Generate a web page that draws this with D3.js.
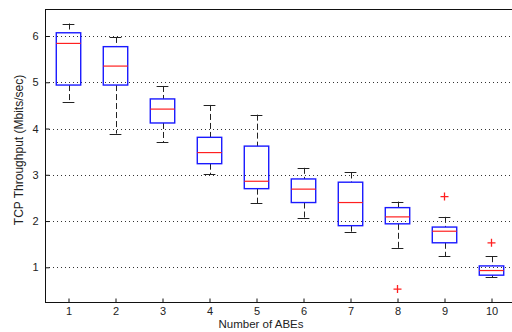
<!DOCTYPE html>
<html>
<head>
<meta charset="utf-8">
<script src="https://cdn.jsdelivr.net/npm/d3@7"></script>
<style>
  body { margin: 0; background: #fff; }
  svg { display: block; }
  text { font-family: "Liberation Sans", Arial, sans-serif; fill: #222; }
</style>
</head>
<body>
<div id="container"></div>
<script>
/* DATA */
const abes = [1, 2, 3, 4, 5, 6, 7, 8, 9, 10];
const whiskerHigh = [6.27, 5.98, 4.92, 4.51, 4.30, 3.15, 3.05, 2.42, 2.09, 1.24];
const q3 = [6.07, 5.77, 4.64, 3.81, 3.62, 2.91, 2.84, 2.29, 1.87, 1.03];
const medians = [5.84, 5.35, 4.42, 3.48, 2.86, 2.69, 2.40, 2.09, 1.78, 0.93];
const q1 = [4.94, 4.94, 4.12, 3.24, 2.70, 2.40, 1.90, 1.94, 1.53, 0.83];
const whiskerLow = [4.57, 3.89, 3.71, 3.01, 2.38, 2.07, 1.77, 1.41, 1.24, 0.78];
const outlierX = [8, 9, 10];
const outlierY = [0.53, 2.53, 1.53];
const yTicks = [1, 2, 3, 4, 5, 6];

/* CONSTANTS */
const width = 512, height = 332,
    margin = { top: 9, bottom: 30, left: 45, right: -3 };

const boxes = abes.map((a, i) => ({
    x: a, hi: whiskerHigh[i], q3: q3[i], med: medians[i], q1: q1[i], lo: whiskerLow[i]
}));
const outliers = outlierX.map((x, i) => ({ x: x, y: outlierY[i] }));

// SCALES
const xScale = d3.scaleLinear()
    .domain([0.5, 10.5])
    .range([margin.left, width - margin.right]);

const yScale = d3.scaleLinear()
    .domain([0.25, 6.584])
    .range([height - margin.bottom, margin.top]);

const boxW = xScale(0.52) - xScale(0);
const capW = xScale(0.25) - xScale(0);

// SVG
const svg = d3.select("#container")
    .append("svg")
    .attr("width", width)
    .attr("height", height);

const x0 = xScale.range()[0], x1 = xScale.range()[1];
const y0 = yScale.range()[0], y1 = yScale.range()[1];

// GRID
svg.append("g")
    .selectAll("line")
    .data(yTicks)
    .join("line")
    .attr("x1", x0)
    .attr("x2", x1)
    .attr("y1", d => Math.round(yScale(d)) + 0.5)
    .attr("y2", d => Math.round(yScale(d)) + 0.5)
    .attr("stroke", "#333")
    .attr("stroke-width", 1)
    .attr("stroke-dasharray", "1,3");

// Y AXIS
const yAxis = d3.axisLeft(yScale)
    .tickValues(yTicks)
    .tickSize(-4)
    .tickPadding(7)
    .tickFormat(d3.format("d"));
svg.append("g")
    .attr("class", "axis")
    .attr("transform", `translate(${x0 + 0.5},0)`)
    .call(yAxis)
    .call(g => g.select(".domain").remove())
    .call(g => g.selectAll(".tick line").attr("stroke", "#111"))
    .call(g => g.selectAll(".tick text").style("font-size", "11px").attr("fill", "#222"));

// X AXIS
const xAxis = d3.axisBottom(xScale)
    .tickValues(abes)
    .tickSize(-4)
    .tickPadding(5)
    .tickFormat(d3.format("d"));
svg.append("g")
    .attr("class", "axis")
    .attr("transform", `translate(0,${y0 + 0.5})`)
    .call(xAxis)
    .call(g => g.select(".domain").remove())
    .call(g => g.selectAll(".tick line").attr("stroke", "#111"))
    .call(g => g.selectAll(".tick text").style("font-size", "11px").attr("fill", "#222"));

// FRAME
svg.append("rect")
    .attr("x", x0 + 0.5)
    .attr("y", y1 + 0.5)
    .attr("width", x1 - x0)
    .attr("height", y0 - y1)
    .attr("fill", "none")
    .attr("stroke", "#111")
    .attr("stroke-width", 1);

// BOXPLOTS
const g = svg.append("g")
    .selectAll("g")
    .data(boxes)
    .join("g");

// whiskers (dashed)
g.append("line")
    .attr("x1", d => Math.round(xScale(d.x)) + 0.5)
    .attr("x2", d => Math.round(xScale(d.x)) + 0.5)
    .attr("y1", d => yScale(d.hi))
    .attr("y2", d => yScale(d.q3))
    .attr("stroke", "#222")
    .attr("stroke-dasharray", "6,3");
g.append("line")
    .attr("x1", d => Math.round(xScale(d.x)) + 0.5)
    .attr("x2", d => Math.round(xScale(d.x)) + 0.5)
    .attr("y1", d => yScale(d.q1))
    .attr("y2", d => yScale(d.lo))
    .attr("stroke", "#222")
    .attr("stroke-dasharray", "6,3");

// caps
g.append("line")
    .attr("x1", d => xScale(d.x) - capW / 2)
    .attr("x2", d => xScale(d.x) + capW / 2)
    .attr("y1", d => Math.round(yScale(d.hi)) + 0.5)
    .attr("y2", d => Math.round(yScale(d.hi)) + 0.5)
    .attr("stroke", "#222");
g.append("line")
    .attr("x1", d => xScale(d.x) - capW / 2)
    .attr("x2", d => xScale(d.x) + capW / 2)
    .attr("y1", d => Math.round(yScale(d.lo)) + 0.5)
    .attr("y2", d => Math.round(yScale(d.lo)) + 0.5)
    .attr("stroke", "#222");

// boxes
g.append("rect")
    .attr("x", d => xScale(d.x) - boxW / 2)
    .attr("y", d => yScale(d.q3))
    .attr("width", boxW)
    .attr("height", d => yScale(d.q1) - yScale(d.q3))
    .attr("fill", "none")
    .attr("stroke", "#1a1aff")
    .attr("stroke-width", 1.4);

// medians
g.append("line")
    .attr("x1", d => xScale(d.x) - boxW / 2)
    .attr("x2", d => xScale(d.x) + boxW / 2)
    .attr("y1", d => yScale(d.med))
    .attr("y2", d => yScale(d.med))
    .attr("stroke", "#ff2020")
    .attr("stroke-width", 1.2);

// OUTLIERS
svg.append("g")
    .selectAll("path")
    .data(outliers)
    .join("path")
    .attr("d", d => {
        const cx = xScale(d.x), cy = yScale(d.y), s = 4;
        return `M${cx - s},${cy}H${cx + s}M${cx},${cy - s}V${cy + s}`;
    })
    .attr("stroke", "#ff2020")
    .attr("stroke-width", 1.3);

// LABELS
svg.append("text")
    .attr("x", 261)
    .attr("y", 328)
    .attr("text-anchor", "middle")
    .style("font-size", "11.5px")
    .text("Number of ABEs");

svg.append("text")
    .attr("transform", "translate(23,150) rotate(-90)")
    .attr("text-anchor", "middle")
    .style("font-size", "12px")
    .text("TCP Throughput (Mbits/sec)");
</script>
</body>
</html>
